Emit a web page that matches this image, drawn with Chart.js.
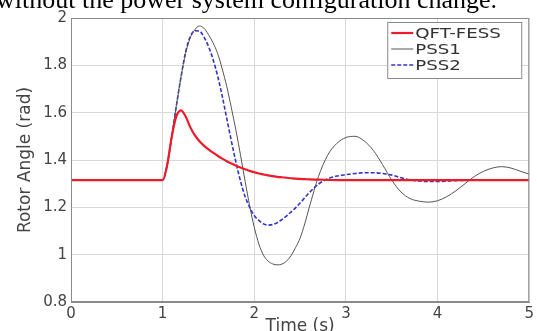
<!DOCTYPE html>
<html>
<head>
<meta charset="utf-8">
<script src="https://cdn.jsdelivr.net/npm/chart.js@4.4.0/dist/chart.umd.min.js"></script>
<style>
  html, body { margin: 0; padding: 0; background: #fff; }
  #wrap { position: relative; width: 537px; height: 331px; overflow: hidden; }
  #caption {
    position: absolute; left: -4px; top: -15px; white-space: nowrap;
    font-family: "Liberation Serif", "Times New Roman", serif; font-size: 26px; color: #000;
  }
</style>
</head>
<body>
<div id="wrap">
  <canvas id="chart" width="537" height="331"></canvas>
  <div id="caption">without the power system configuration change.</div>
</div>
<script>
// time axis (s)
const times = [0, 0.5, 1.0, 1.05, 1.1, 1.15, 1.2, 1.25, 1.3, 1.35, 1.4, 1.45, 1.5, 1.55, 1.6, 1.65, 1.7, 1.75, 1.8, 1.85, 1.9, 1.95,
  2.0, 2.05, 2.1, 2.15, 2.2, 2.25, 2.3, 2.35, 2.4, 2.45, 2.5, 2.55, 2.6, 2.7, 2.8, 2.9,
  3.0, 3.1, 3.2, 3.3, 3.4, 3.5, 3.6, 3.7, 3.8, 3.9, 4.0, 4.1, 4.2, 4.3, 4.4, 4.5, 4.6, 4.7, 4.8, 4.9, 5.0];

const qftFess = [1.315, 1.315, 1.315, 1.38, 1.50, 1.585, 1.61, 1.585, 1.54, 1.505, 1.48, 1.461, 1.445, 1.431, 1.418, 1.406, 1.395, 1.385, 1.376, 1.368, 1.361, 1.354,
  1.348, 1.343, 1.339, 1.335, 1.332, 1.329, 1.327, 1.325, 1.323, 1.321, 1.32, 1.319, 1.318, 1.317, 1.316, 1.315,
  1.315, 1.315, 1.315, 1.315, 1.315, 1.315, 1.315, 1.315, 1.315, 1.315, 1.315, 1.315, 1.315, 1.315, 1.315, 1.315, 1.315, 1.315, 1.315, 1.315, 1.315];

const pss1 = [1.315, 1.315, 1.315, 1.38, 1.50, 1.63, 1.75, 1.85, 1.915, 1.95, 1.966, 1.957, 1.93, 1.895, 1.85, 1.785, 1.71, 1.62, 1.525, 1.42, 1.31, 1.205,
  1.115, 1.045, 0.998, 0.973, 0.961, 0.957, 0.96, 0.972, 0.995, 1.03, 1.07, 1.13, 1.20, 1.33, 1.42, 1.47,
  1.495, 1.50, 1.48, 1.44, 1.38, 1.315, 1.265, 1.237, 1.226, 1.222, 1.228, 1.245, 1.27, 1.30, 1.33, 1.352, 1.366, 1.372, 1.366, 1.353, 1.34];

const pss2 = [1.315, 1.315, 1.315, 1.38, 1.50, 1.63, 1.75, 1.855, 1.92, 1.946, 1.945, 1.92, 1.88, 1.825, 1.755, 1.67, 1.575, 1.48, 1.39, 1.31, 1.245, 1.20,
  1.165, 1.145, 1.13, 1.125, 1.127, 1.135, 1.148, 1.163, 1.18, 1.198, 1.218, 1.24, 1.262, 1.298, 1.32, 1.332,
  1.338, 1.343, 1.346, 1.346, 1.343, 1.336, 1.325, 1.316, 1.311, 1.309, 1.309, 1.311, 1.313, 1.314, 1.315, 1.315, 1.315, 1.315, 1.315, 1.315, 1.315];

const xTicks = [0, 1, 2, 3, 4, 5];
const yTicks = [0.8, 1, 1.2, 1.4, 1.6, 1.8, 2];

function pts(vals) {
  return vals.map((v, i) => ({ x: times[i], y: v }));
}

const tickFont = { family: 'DejaVu Sans', size: 15 };

// MATLAB style box round the plot area
const boxPlugin = {
  id: 'box',
  afterDatasetsDraw(chart) {
    const a = chart.chartArea;
    const c = chart.ctx;
    c.save();
    c.strokeStyle = '#8a8a8a';
    c.lineWidth = 1;
    c.strokeRect(a.left + 0.5, a.top + 0.5, a.right - a.left - 1, a.bottom - a.top - 1);
    c.restore();
  }
};

// legend box in the upper right corner, text a bit stretched like the original
const legendPlugin = {
  id: 'boxLegend',
  afterDatasetsDraw(chart) {
    const c = chart.ctx;
    const a = chart.chartArea;
    const x0 = a.right - 142, y0 = a.top + 4, w = 134, h = 56;
    c.save();
    c.fillStyle = '#fff';
    c.fillRect(x0, y0, w, h);
    c.strokeStyle = '#8a8a8a';
    c.lineWidth = 1;
    c.strokeRect(x0 + 0.5, y0 + 0.5, w, h);
    chart.data.datasets.forEach((ds, i) => {
      const y = y0 + 11 + i * 16;
      c.strokeStyle = ds.borderColor;
      c.lineWidth = ds.borderWidth;
      c.setLineDash(ds.borderDash || []);
      c.beginPath();
      c.moveTo(x0 + 4, y);
      c.lineTo(x0 + 26, y);
      c.stroke();
      c.setLineDash([]);
      c.save();
      c.translate(x0 + 28, y);
      c.scale(1.3, 1);
      c.fillStyle = '#333';
      c.font = '14px "DejaVu Sans"';
      c.textBaseline = 'middle';
      c.fillText(ds.label, 0, 1);
      c.restore();
    });
    c.restore();
  }
};

const ctx = document.getElementById('chart').getContext('2d');
const chart = new Chart(ctx, {
  type: 'line',
  data: {
    datasets: [
      {
        label: 'QFT-FESS',
        data: pts(qftFess),
        borderColor: 'rgb(240,25,40)',
        borderWidth: 2.2
      },
      {
        label: 'PSS1',
        data: pts(pss1),
        borderColor: '#555',
        borderWidth: 1
      },
      {
        label: 'PSS2',
        data: pts(pss2),
        borderColor: 'rgb(50,50,210)',
        borderWidth: 1.6,
        borderDash: [4, 2]
      }
    ]
  },
  options: {
    responsive: false,
    animation: false,
    devicePixelRatio: 1,
    layout: { padding: { top: 18, right: 7, left: 0, bottom: 0 } },
    elements: {
      point: { radius: 0 },
      line: { cubicInterpolationMode: 'monotone' }
    },
    plugins: {
      legend: { display: false },
      tooltip: { enabled: false }
    },
    scales: {
      x: {
        type: 'linear',
        min: 0,
        max: 5,
        afterFit: s => { s.height = 29; },
        afterBuildTicks: s => { s.ticks = xTicks.map(v => ({ value: v })); },
        grid: { color: '#d9d9d9', drawTicks: false },
        border: { color: '#8a8a8a' },
        ticks: { font: tickFont, color: '#444', padding: 3, maxRotation: 0 },
        title: {
          display: true,
          text: 'Time (s)',
          font: { family: 'DejaVu Sans', size: 17 },
          color: '#444',
          padding: { top: 0, bottom: -6 }
        }
      },
      y: {
        min: 0.8,
        max: 2,
        afterFit: s => { s.width = 71; },
        afterBuildTicks: s => { s.ticks = yTicks.map(v => ({ value: v })); },
        grid: { color: '#d9d9d9', drawTicks: false },
        border: { color: '#8a8a8a' },
        ticks: {
          font: tickFont,
          color: '#444',
          padding: 4,
          callback: v => String(+v.toFixed(1))
        },
        title: {
          display: true,
          text: 'Rotor Angle (rad)',
          font: { family: 'DejaVu Sans', size: 17 },
          color: '#444',
          padding: { top: 15, bottom: 0 }
        }
      }
    }
  },
  plugins: [boxPlugin, legendPlugin]
});
</script>
</body>
</html>
